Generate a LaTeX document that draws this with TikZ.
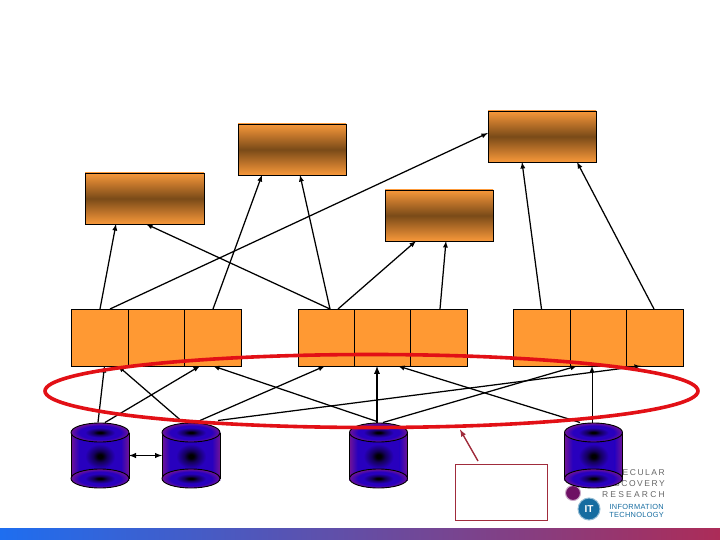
\documentclass[tikz,border=0pt]{standalone}
\usepackage{fontspec}
\usepackage{xcolor}
\usetikzlibrary{positioning, arrows, shapes.geometric}
\newfontfamily\logofont[LetterSpace=18]{Liberation Sans}
\newfontfamily\reslogofont[LetterSpace=26]{Liberation Sans}
\newfontfamily\itlogofont[LetterSpace=4]{Liberation Sans}
\newfontfamily\itfont{Liberation Sans}
\definecolor{boxorange}{RGB}{255,153,51}
\definecolor{boxedge}{RGB}{248,152,58}
\definecolor{boxdark}{RGB}{122,74,24}
\definecolor{calloutred}{RGB}{160,44,60}
\definecolor{ringred}{RGB}{226,16,22}
\definecolor{logoteal}{RGB}{22,108,160}
\definecolor{logopurple}{RGB}{110,16,100}
\definecolor{dbdeep}{RGB}{20,0,90}
\definecolor{dbblue}{RGB}{40,0,190}
\definecolor{dbviolet}{RGB}{112,20,150}
\pgfdeclareradialshading{dbglow}{\pgfpoint{0bp}{0bp}}{%
  color(0bp)=(black);
  color(2bp)=(black);
  color(6bp)=(dbdeep);
  color(13bp)=(dbblue);
  color(50bp)=(dbblue)}
\pgfdeclareradialshading{dbcap}{\pgfpoint{0bp}{0bp}}{%
  color(0bp)=(black);
  color(2bp)=(black);
  color(6bp)=(dbdeep);
  color(13bp)=(dbblue);
  color(18bp)=(dbblue);
  color(25bp)=(dbviolet);
  color(50bp)=(dbviolet)}

\begin{document}
\begin{tikzpicture}[
  x=1pt, y=-1pt,
  topnode/.style={draw=black, top color=boxedge, bottom color=boxedge, middle color=boxdark, minimum height=51pt, inner sep=0pt, outer sep=0pt},
  midnode/.style={draw=black, fill=boxorange, minimum width=57pt, minimum height=57pt, inner sep=0pt, outer sep=0pt},
  dbnode/.style={minimum width=58pt, minimum height=66pt, inner sep=0pt, outer sep=0pt},
  link/.style={->, >=latex, line width=1.25pt},
  biglink/.style={<->, >=latex, line width=1.4pt},
  logotext/.style={anchor=east, inner sep=0pt, text=black!60, font=\logofont\fontsize{8.5}{9}\selectfont},
  ittext/.style={anchor=east, inner sep=0pt, text=logoteal, font=\itlogofont\fontsize{7.4}{7.4}\selectfont}
]
  \useasboundingbox (0,0) rectangle (720,540);

  % Bottom bar
  \node[minimum width=720pt, minimum height=12pt, inner sep=0pt, outer sep=0pt, left color={rgb,255:red,30;green,110;blue,240}, middle color={rgb,255:red,118;green,74;blue,184}, right color={rgb,255:red,172;green,44;blue,88}] (bar) at (360,534) {};

  % Top boxes
  \node[topnode, minimum width=119pt] (t1) at (144.5,198.5) {};
  \node[topnode, minimum width=108pt] (t2) at (292,149.5) {};
  \node[topnode, minimum width=108pt] (t3) at (439,215.5) {};
  \node[topnode, minimum width=108pt] (t4) at (542,136.5) {};

  % Middle boxes
  \foreach \midname/\midx in {a1/99.5, a2/156.5, a3/213, b1/326.5, b2/383, b3/439, c1/541.5, c2/598.5, c3/655} {
    \node[midnode] (\midname) at (\midx,337.5) {};
  }

  % Logo
  \node[logotext] (mol) at (665,473) {MOLECULAR};
  \node[logotext] (dis) at (665,484) {DISCOVERY};
  \node[logotext, font=\reslogofont\fontsize{8.5}{9}\selectfont] (res) at (665,495) {RESEARCH};
  \node[ittext] (inf) at (664,507) {INFORMATION};
  \node[ittext] (tec) at (664,515) {TECHNOLOGY};
  \node[circle, draw=logopurple!35, line width=1pt, fill=logopurple, minimum size=15pt, inner sep=0pt] (dot) at (573,493) {};
  \node[circle, draw=logoteal!45, line width=1pt, fill=logoteal, minimum size=22pt, inner sep=0pt, text=white, font=\itfont\bfseries\fontsize{10}{10}\selectfont] (it) at (589,509) {IT};

  % Databases
  \foreach \dbname/\dbx in {db1/100, db2/191, db3/378.5, db4/593.5} {
    \begin{scope}[shift={(\dbx,0)}]
      \shade[shading=dbglow] (-29,432.5) rectangle (29,480);
      \shade[left color=dbviolet, right color=dbblue] (-29,432.5) rectangle (-21,480);
      \shade[left color=dbblue, right color=dbviolet] (21,432.5) rectangle (29,480);
      \draw[line width=0.9pt] (-29,432.5) -- (-29,478.5) (29,478.5) -- (29,432.5);
      \shade[shading=dbcap, draw=black, line width=0.9pt] (0,432.5) ellipse [x radius=29, y radius=9.5];
      \shade[shading=dbcap, draw=black, line width=0.9pt] (0,478.5) ellipse [x radius=29, y radius=9.5];
      \node[dbnode] (\dbname) at (0,455.5) {};
    \end{scope}
  }

  % Middle to top
  \draw[link] ([xshift=0.5pt]a1.north) -- ([xshift=-28.5pt]t1.south);
  \draw[link] ([xshift=3.5pt]b1.north) -- ([xshift=1.5pt]t1.south);
  \draw[link] (a3.north) -- ([xshift=-30pt]t2.south);
  \draw[link] ([xshift=3.5pt]b1.north) -- ([xshift=8pt]t2.south);
  \draw[link] ([xshift=10.5pt]a1.north) -- ([yshift=3.5pt]t4.west);
  \draw[link] ([xshift=11.5pt]b1.north) -- ([xshift=-23pt]t3.south);
  \draw[link] ([xshift=1pt]b3.north) -- ([xshift=7pt]t3.south);
  \draw[link] (c1.north) -- ([xshift=-20pt]t4.south);
  \draw[link] ([xshift=-1pt]c3.north) -- ([xshift=35pt]t4.south);

  % Databases to middle
  \draw[link] ([xshift=-2pt]db1.north) -- ([xshift=5pt]a1.south);
  \draw[link] ([xshift=5pt]db1.north) -- ([xshift=-13pt]a3.south);
  \draw[link] ([xshift=-10pt,yshift=2pt]db2.north) -- ([xshift=18.5pt]a1.south);
  \draw[link] ([xshift=9pt,yshift=2pt]db2.north) -- ([xshift=-1.5pt]b1.south);
  \draw[link] ([xshift=27pt,yshift=2pt]db2.north) -- ([xshift=-14pt]c3.south);
  \draw[link] ([xshift=-1.5pt,yshift=1pt]db3.north) -- ([xshift=0pt]a3.south);
  \draw[link, line width=1.7pt] ([xshift=-1.5pt]db3.north) -- ([xshift=-6pt]b2.south);
  \draw[link] ([xshift=4.5pt]db3.north) -- ([xshift=-21.5pt]c2.south);
  \draw[link] ([xshift=-13.5pt]db4.north) -- ([xshift=15pt]b2.south);
  \draw[link, line width=1pt] ([xshift=-1.5pt]db4.north) -- ([xshift=-6.5pt]c2.south);
  \draw[biglink] (db1.east) -- (db2.west);

  % Callout
  \node[draw=calloutred, line width=1pt, fill=white, minimum width=92pt, minimum height=56pt, inner sep=0pt, outer sep=0pt] (note) at (501,492) {};
  \node[ellipse, draw=ringred, line width=3.6pt, minimum width=653pt, minimum height=73pt, inner sep=0pt, outer sep=0pt] (ring) at (371.5,391) {};
  \draw[->, >=latex, draw=calloutred, line width=1.4pt] ([xshift=-23pt,yshift=3pt]note.north) -- ([xshift=88.5pt,yshift=-2pt]ring.south);
\end{tikzpicture}
\end{document}
